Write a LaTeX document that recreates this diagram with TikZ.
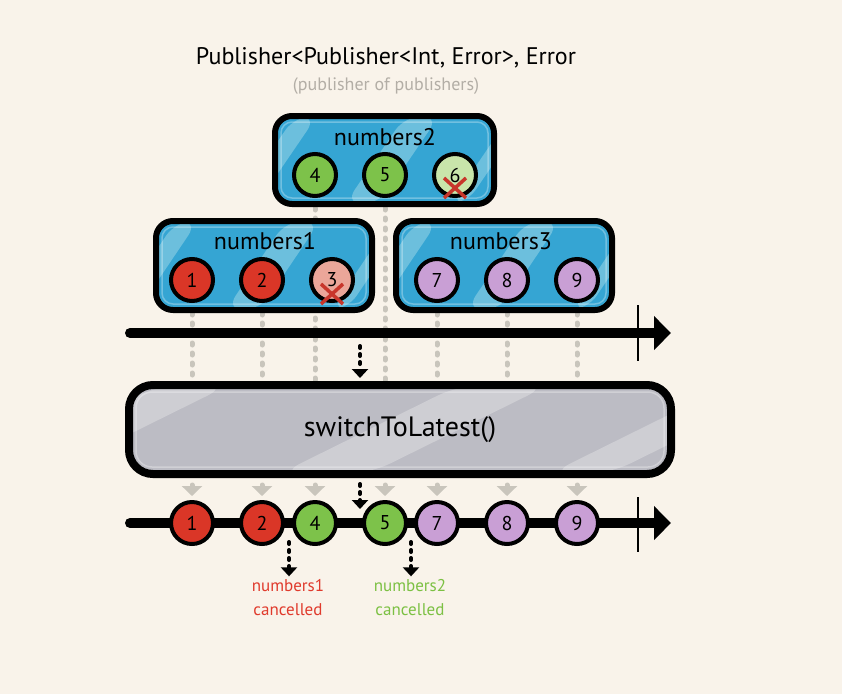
\documentclass[tikz,border=0pt]{standalone}
\usepackage{fontspec}
\setmainfont{PT Sans}
\usetikzlibrary{arrows.meta,calc,backgrounds}

\definecolor{bgCream}{HTML}{F9F3EA}
\definecolor{boxBlue}{HTML}{35A5D3}
\definecolor{stripeBlue}{HTML}{6CBFDD}
\definecolor{boxGray}{HTML}{BCBCC4}
\definecolor{stripeGray}{HTML}{CECED3}
\definecolor{marbleRed}{HTML}{DA3627}
\definecolor{marbleGreen}{HTML}{7DC24A}
\definecolor{marblePurple}{HTML}{C99FD5}
\definecolor{fadedRed}{HTML}{EBA699}
\definecolor{fadedGreen}{HTML}{C9E5AA}
\definecolor{crossRed}{HTML}{C8362B}
\definecolor{dotGray}{HTML}{C9C5BC}
\definecolor{subGray}{HTML}{B3AEA6}
\definecolor{labelRed}{HTML}{E03A2C}
\definecolor{labelGreen}{HTML}{7CC043}

\tikzset{
  marble/.style={circle, draw, line width=4pt, minimum size=42pt, inner sep=0pt,
    font=\fontsize{20}{22}\selectfont},
  redmarble/.style={marble, fill=marbleRed},
  greenmarble/.style={marble, fill=marbleGreen},
  purplemarble/.style={marble, fill=marblePurple},
  publisherbox/.style={draw, line width=6pt, rounded corners=17pt, fill=boxBlue,
    inner sep=0pt, minimum height=89pt,
    path picture={
      \foreach \s/\w in {-40/22, 70/34, 175/16}
        \fill[stripeBlue] ($(path picture bounding box.south west)+(\s,0)$) -- ++(\w,0)
          -- ($(path picture bounding box.north west)+(\s+\w+60,0)$) -- ++(-\w,0) -- cycle;
      \draw[white, opacity=.3, line width=1.5pt, rounded corners=11pt]
        ($(path picture bounding box.south west)+(6,-6)$) rectangle
        ($(path picture bounding box.north east)+(-6,6)$);
    }},
  operatorbox/.style={draw, line width=8pt, rounded corners=24pt, fill=boxGray,
    inner sep=0pt, minimum width=542pt, minimum height=89pt,
    font=\fontsize{28}{30}\selectfont,
    path picture={
      \foreach \s/\w in {-150/70, 150/90, 420/60}
        \fill[stripeGray] ($(path picture bounding box.south west)+(\s,0)$) -- ++(\w,0)
          -- ($(path picture bounding box.north west)+(\s+\w+180,0)$) -- ++(-\w,0) -- cycle;
      \draw[white, opacity=.3, line width=1.5pt, rounded corners=16pt]
        ($(path picture bounding box.south west)+(7,-7)$) rectangle
        ($(path picture bounding box.north east)+(-7,7)$);
    }},
  boxlabel/.style={font=\fontsize{24}{26}\selectfont},
  greydots/.style={draw=dotGray, line width=5pt, line cap=round, dash pattern=on 2pt off 8pt},
  greyarrow/.style={greydots, -{Triangle[length=10pt,width=20pt]}},
  blackdots/.style={line width=4pt, line cap=round, dash pattern=on 2pt off 6pt,
    -{Triangle[length=9pt,width=16pt]}},
  timeline/.style={line width=10pt, line cap=round, -{Triangle[length=17pt,width=33pt]}},
  tickmark/.style={line width=2.5pt},
  cross/.style={crossRed, line width=3.5pt},
  cancelnote/.style={align=center, font=\fontsize{17}{24}\selectfont},
}

\begin{document}
\begin{tikzpicture}[x=1pt, y=-1pt]

\useasboundingbox (0,0) rectangle (842,694);

% fondo y lineas punteadas (debajo de todo)
\begin{scope}[on background layer]
\fill[bgCream] (0,0) rectangle (842,694);
\end{scope}

\coordinate (tl1start) at (130,333);
\coordinate (tl1end) at (671,333);
\coordinate (tl2start) at (130,523);
\coordinate (tl2end) at (671,523);

\node[font=\fontsize{24}{26}\selectfont] (title) at (386,58) {Publisher<Publisher<Int, Error>, Error};
\node[font=\fontsize{18}{20}\selectfont, text=subGray] (subtitle) at (386,86) {(publisher of publishers)};

% operador
\node[operatorbox] (switch) at (400,429.5) {switchToLatest()};

% publishers internos
\node[publisherbox, minimum width=219pt, minimum height=88pt] (numbers2) at (384.5,160) {};
\node[boxlabel] (lbl2) at (385,137) {numbers2};
\node[greenmarble] (c4) at (315,175) {4};
\node[greenmarble] (c5) at (385,175) {5};
\node[marble, fill=fadedGreen] (c6) at (455,175) {6};

\begin{scope}[on background layer]
\foreach \c in {c4,c5}
  \draw[greydots] (\c.south) -- (\c |- switch.north);
\end{scope}

\node[publisherbox, minimum width=216pt] (numbers1) at (264,265.5) {};
\node[boxlabel] (lbl1) at (265,241) {numbers1};
\node[redmarble] (c1) at (192,280) {1};
\node[redmarble] (c2) at (262,280) {2};
\node[marble, fill=fadedRed] (c3) at (332,280) {3};

\node[publisherbox, minimum width=216pt] (numbers3) at (504,265.5) {};
\node[boxlabel] (lbl3) at (501,241) {numbers3};
\node[purplemarble] (c7) at (437,280) {7};
\node[purplemarble] (c8) at (507,280) {8};
\node[purplemarble] (c9) at (577,280) {9};

\begin{scope}[on background layer]
\foreach \c in {c1,c2,c7,c8,c9}
  \draw[greydots] (\c.south) -- (\c |- switch.north);
\end{scope}

% cruces de los valores cancelados
\draw[cross] ($(c6)+(-11,3)$) -- ($(c6)+(11,23)$);
\draw[cross] ($(c6)+(11,3)$) -- ($(c6)+(-11,23)$);
\draw[cross] ($(c3)+(-11,4)$) -- ($(c3)+(11,24)$);
\draw[cross] ($(c3)+(11,4)$) -- ($(c3)+(-11,24)$);

% linea de tiempo de entrada
\draw[timeline] (tl1start) -- (tl1end);
\draw[tickmark] (638,305) -- (638,361);

\coordinate (in1) at (360,346);
\coordinate (in2) at (360,378);
\draw[blackdots] (in1) -- (in2);

% linea de tiempo de salida
\draw[timeline] (tl2start) -- (tl2end);
\draw[tickmark] (638,497) -- (638,552);

\node[redmarble] (o1) at (192,523) {1};
\node[redmarble] (o2) at (262,523) {2};
\node[greenmarble] (o4) at (315,523) {4};
\node[greenmarble] (o5) at (385,523) {5};
\node[purplemarble] (o7) at (437,523) {7};
\node[purplemarble] (o8) at (507,523) {8};
\node[purplemarble] (o9) at (577,523) {9};

\foreach \o in {o1,o2,o4,o5,o7,o8,o9}
  \draw[greyarrow, shorten >=4pt] ($(switch.south -| \o)+(0,7)$) -- (\o.north);

\coordinate (out1) at (360,484);
\coordinate (out2) at (360,509);
\draw[blackdots] (out1) -- (out2);

% notas de cancelacion
\node[cancelnote, text=labelRed] (cancel1) at (288,598) {numbers1\\cancelled};
\node[cancelnote, text=labelGreen] (cancel2) at (410,598) {numbers2\\cancelled};
\coordinate (k1) at (289,542);
\coordinate (k2) at (411,542);
\draw[blackdots] (k1) -- (k1 |- cancel1.north);
\draw[blackdots] (k2) -- (k2 |- cancel2.north);

\end{tikzpicture}
\end{document}
